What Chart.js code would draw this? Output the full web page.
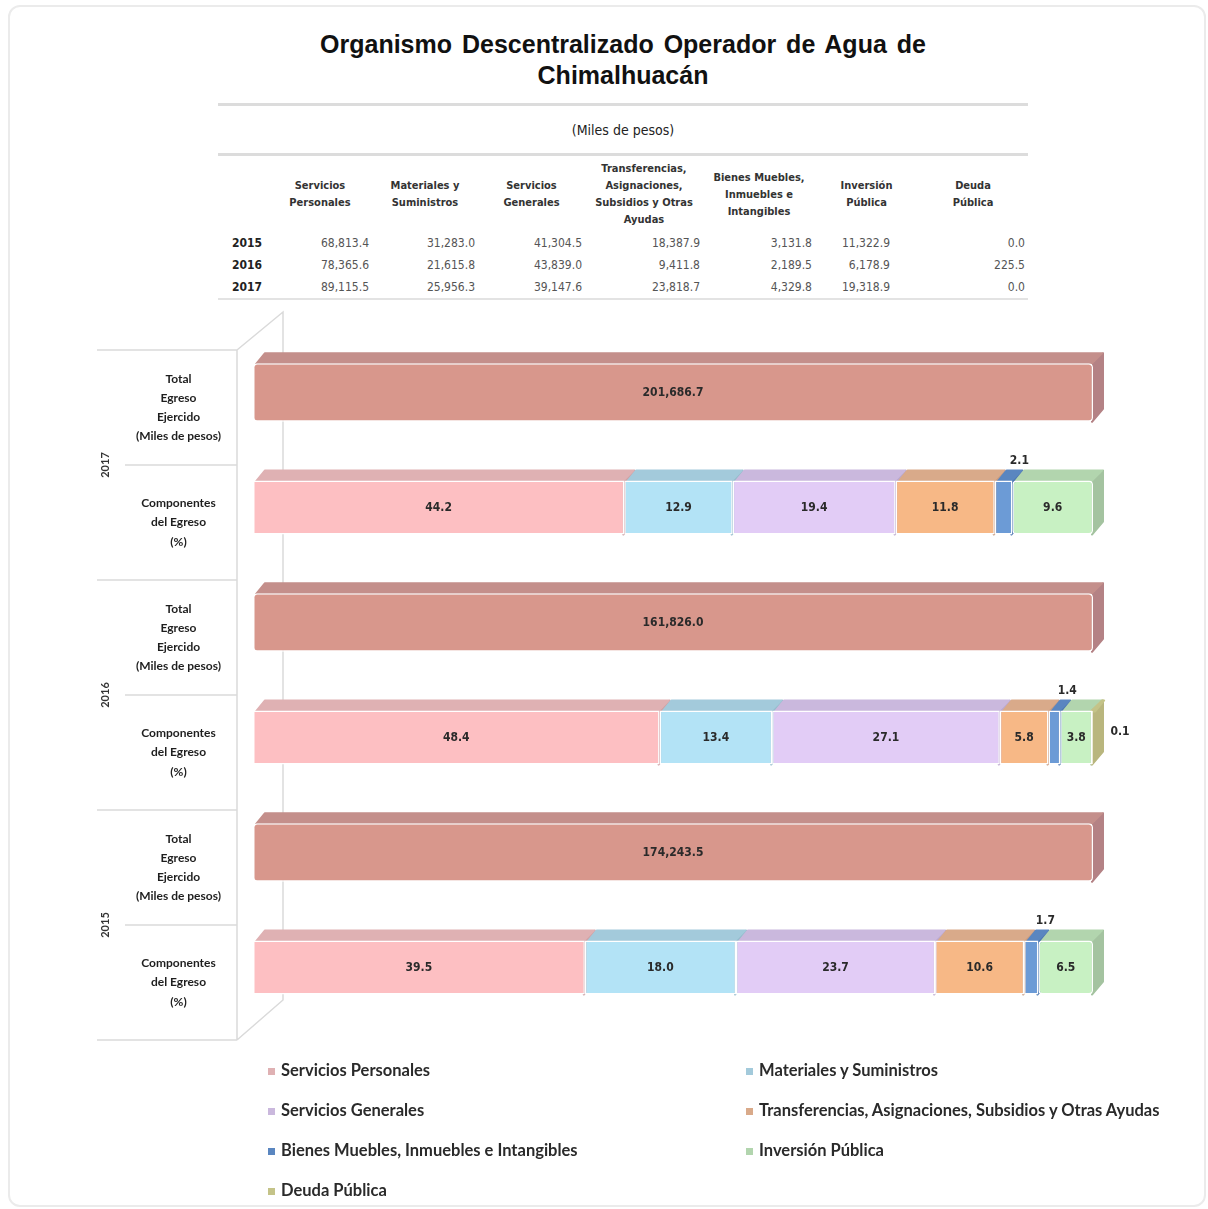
<!DOCTYPE html>
<html>
<head>
<meta charset="utf-8">
<script src="https://cdn.jsdelivr.net/npm/chart.js@4"></script>
<style>
  body { margin: 0; background: #fff; width: 1208px; height: 1209px; position: relative; overflow: hidden; }
  #frame { position: absolute; left: 8px; top: 5px; width: 1194px; height: 1198px; border: 2px solid #ebebeb; border-radius: 12px; }
  #title { position: absolute; left: 218px; top: 29px; width: 810px; text-align: center;
           font: bold 25px "Liberation Sans", Arial, sans-serif; line-height: 31px; color: #111; word-spacing: 3px; }
  #tbl { position: absolute; left: 218px; top: 103px; width: 810px; border-collapse: collapse;
         font-family: "Liberation Sans Narrow", "DejaVu Sans Condensed", sans-serif; }
  #tbl .unit td { height: 47px; border-top: 3px solid #dcdcdc; border-bottom: 3px solid #dcdcdc;
                  text-align: center; font-size: 14px; color: #222; padding: 0; }
  #tbl th { height: 76px; font-size: 11px; font-weight: bold; color: #333; line-height: 17px; padding: 0; text-align: center; }
  #tbl .row td { height: 22px; font-size: 12px; color: #555; text-align: right; padding: 0 3px 0 0; }
  #tbl .row td:first-child { font-weight: bold; color: #222; padding-right: 6px; }
  #tbl .row td:nth-child(7) { padding-right: 28px; }
  #tbl .last td { border-bottom: 2px solid #e3e3e3; }
  #chart { position: absolute; left: 0; top: 300px; }
  #legend { position: absolute; left: 268px; top: 1058px; width: 930px; display: grid;
            grid-template-columns: 478px 452px; row-gap: 16px;
            font: bold 16.5px Lato, "Open Sans", sans-serif; color: #2a2a2a; }
  #legend div { height: 24px; line-height: 24px; white-space: nowrap; }
  #legend span { display: inline-block; width: 7px; height: 7px; margin-right: 6px; vertical-align: 1px; }
</style>
</head>
<body>
<div id="frame"></div>
<div id="title">Organismo Descentralizado Operador de Agua de<br>Chimalhuacán</div>
<table id="tbl">
  <colgroup>
    <col style="width:50px"><col style="width:104px"><col style="width:106px"><col style="width:107px">
    <col style="width:118px"><col style="width:112px"><col style="width:103px"><col style="width:110px">
  </colgroup>
  <tbody id="tbody"></tbody>
</table>
<canvas id="chart" width="1208" height="760"></canvas>
<div id="legend"></div>
<script>
// chart rows, top to bottom
const rowLabels = [
  ["Total", "Egreso", "Ejercido", "(Miles de pesos)"],
  ["Componentes", "del Egreso", "(%)"],
  ["Total", "Egreso", "Ejercido", "(Miles de pesos)"],
  ["Componentes", "del Egreso", "(%)"],
  ["Total", "Egreso", "Ejercido", "(Miles de pesos)"],
  ["Componentes", "del Egreso", "(%)"],
];
const years = ["2017", "2016", "2015"];
const totalEgreso = [201686.7, 161826.0, 174243.5]; // miles de pesos, 2017 / 2016 / 2015

const componentNames = [
  "Servicios Personales",
  "Materiales y Suministros",
  "Servicios Generales",
  "Transferencias, Asignaciones, Subsidios y Otras Ayudas",
  "Bienes Muebles, Inmuebles e Intangibles",
  "Inversión Pública",
  "Deuda Pública",
];
// % of total egreso
const shares2017 = [44.2, 12.9, 19.4, 11.8, 2.1, 9.6, 0.0];
const shares2016 = [48.4, 13.4, 27.1, 5.8, 1.4, 3.8, 0.1];
const shares2015 = [39.5, 18.0, 23.7, 10.6, 1.7, 6.5, 0.0];

// table above the chart
const tableHeaders = [
  ["Servicios", "Personales"],
  ["Materiales y", "Suministros"],
  ["Servicios", "Generales"],
  ["Transferencias,", "Asignaciones,", "Subsidios y Otras", "Ayudas"],
  ["Bienes Muebles,", "Inmuebles e", "Intangibles"],
  ["Inversión", "Pública"],
  ["Deuda", "Pública"],
];
const tableYears = ["2015", "2016", "2017"];
const table2015 = [68813.4, 31283.0, 41304.5, 18387.9, 3131.8, 11322.9, 0.0];
const table2016 = [78365.6, 21615.8, 43839.0, 9411.8, 2189.5, 6178.9, 225.5];
const table2017 = [89115.5, 25956.3, 39147.6, 23818.7, 4329.8, 19318.9, 0.0];

// colours: front face, top face, side face
const totalColors = ["#d8978c", "#c48f8b", "#b48285"];
const frontColors = ["#fdbfc2", "#b3e3f6", "#e2ccf6", "#f7b886", "#6c9bd6", "#c8f1c3", "#d6d89c"];
const topColors   = ["#dfb1b3", "#a3cadb", "#cab8dd", "#d9aa8a", "#5a86c0", "#b2d5ae", "#c4c388"];
const sideColors  = ["#cfa3a6", "#95bccc", "#bba9cf", "#c99c80", "#4f79b2", "#a4c3a0", "#b9b67e"];

const fmt = v => v.toLocaleString("en-US", { minimumFractionDigits: 1, maximumFractionDigits: 1 });

// ---- table
const tb = document.getElementById("tbody");
let html = '<tr class="unit"><td colspan="8">(Miles de pesos)</td></tr>';
html += "<tr><th></th>" + tableHeaders.map(h => "<th>" + h.join("<br>") + "</th>").join("") + "</tr>";
[table2015, table2016, table2017].forEach((vals, r) => {
  html += '<tr class="row' + (r === 2 ? " last" : "") + '"><td>' + tableYears[r] + "</td>" +
    vals.map(v => "<td>" + fmt(v) + "</td>").join("") + "</tr>";
});
tb.innerHTML = html;

// ---- datasets
const yearShares = [shares2017, shares2016, shares2015];
const sum = a => a.reduce((s, v) => s + v, 0);

const datasets = [{
  label: "Total Egreso Ejercido",
  data: rowLabels.map((_, i) => (i % 2 === 0 ? sum(yearShares[i / 2]) : null)),
  backgroundColor: totalColors[0],
  topColor: totalColors[1],
  sideColor: totalColors[2],
  barPercentage: 0.51,
}];
componentNames.forEach((name, k) => {
  datasets.push({
    label: name,
    data: rowLabels.map((_, i) => (i % 2 === 1 ? yearShares[(i - 1) / 2][k] : null)),
    backgroundColor: frontColors[k],
    topColor: topColors[k],
    sideColor: sideColors[k],
    barPercentage: 0.47,
  });
});

// axis box and 3d faces behind the bars
const boxAnd3d = {
  id: "boxAnd3d",
  beforeDatasetsDraw(chart) {
    const c = chart.ctx, ca = chart.chartArea;
    const step = (ca.bottom - ca.top) / rowLabels.length;
    const off = 15;
    const fx = ca.left - 16, bx = ca.left + 30;
    const y0 = ca.top + off, y1 = ca.bottom + off;
    c.save();
    c.strokeStyle = "#dadada";
    c.lineWidth = 1.5;
    c.beginPath();
    for (let k = 0; k <= rowLabels.length; k++) {
      const yy = y0 + k * step;
      c.moveTo(k % 2 === 0 ? 97 : 125, yy);
      c.lineTo(fx, yy);
    }
    c.moveTo(fx, y0); c.lineTo(fx, y1);
    c.moveTo(fx, y0); c.lineTo(bx, y0 - 38);
    c.lineTo(bx, y1 - 40);
    c.lineTo(fx, y1);
    c.stroke();

    // year labels
    c.fillStyle = "#333";
    c.font = "bold 11px Lato, sans-serif";
    c.textAlign = "center";
    c.textBaseline = "middle";
    years.forEach((yr, k) => {
      c.save();
      c.translate(105, y0 + (2 * k + 1) * step);
      c.rotate(-Math.PI / 2);
      c.fillText(yr, 0, 0);
      c.restore();
    });

    // top and side faces
    const dx = 11, dy = 10;
    c.lineJoin = "round";
    chart.data.datasets.forEach((ds, di) => {
      chart.getDatasetMeta(di).data.forEach((el, i) => {
        const v = ds.data[i];
        if (v == null || v === 0) return;
        const p = el.getProps(["x", "y", "base", "height"], true);
        const l = Math.min(p.x, p.base) + 1, r = Math.max(p.x, p.base) - 1;
        const t = p.y - p.height / 2, b = p.y + p.height / 2;
        c.fillStyle = ds.sideColor;
        c.strokeStyle = ds.sideColor;
        c.lineWidth = 2;
        c.beginPath();
        c.moveTo(r, t); c.lineTo(r + dx, t - dy); c.lineTo(r + dx, b - dy - 3); c.lineTo(r, b);
        c.closePath(); c.fill(); c.stroke();
        c.fillStyle = ds.topColor;
        c.strokeStyle = ds.topColor;
        c.beginPath();
        c.moveTo(l + 2, t + 1); c.lineTo(l + dx, t - dy); c.lineTo(r + dx - 1, t - dy); c.lineTo(r - 1, t + 1);
        c.closePath(); c.fill(); c.stroke();
      });
    });
    c.restore();
  },
};

// value labels
const valueLabels = {
  id: "valueLabels",
  afterDatasetsDraw(chart) {
    const c = chart.ctx;
    c.save();
    c.fillStyle = "#2a2a2a";
    c.font = 'bold 12px "Liberation Sans Narrow", "DejaVu Sans Condensed", sans-serif';
    c.textAlign = "center";
    c.textBaseline = "middle";
    chart.data.datasets.forEach((ds, di) => {
      chart.getDatasetMeta(di).data.forEach((el, i) => {
        const v = ds.data[i];
        if (v == null) return;
        const p = el.getProps(["x", "y", "base", "height"], true);
        if (di === 0) {
          c.fillText(fmt(totalEgreso[i / 2]), (p.x + p.base) / 2, p.y);
        } else if (v === 0) {
          return;
        } else if (v >= 3) {
          c.fillText(v.toFixed(1), (p.x + p.base) / 2, p.y);
        } else if (v >= 1) {
          c.fillText(v.toFixed(1), p.x + 7, p.y - p.height / 2 - 20);
        } else {
          c.fillText(v.toFixed(1), p.x + 27, p.y - 6);
        }
      });
    });
    c.restore();
  },
};

new Chart(document.getElementById("chart"), {
  type: "bar",
  data: { labels: rowLabels, datasets: datasets },
  options: {
    indexAxis: "y",
    responsive: false,
    animation: false,
    layout: { padding: { top: 35, bottom: 35, left: 0, right: 115 } },
    datasets: { bar: { categoryPercentage: 1, borderRadius: 4, borderSkipped: false, borderWidth: 1.5, borderColor: "#ffffff" } },
    scales: {
      x: { stacked: true, min: 0, max: 100, display: false },
      y: {
        stacked: true,
        grid: { display: false },
        border: { display: false },
        afterFit: s => { s.width = 253; s.paddingTop = 0; s.paddingBottom = 0; },
        ticks: {
          crossAlign: "center",
          padding: 24,
          labelOffset: 15,
          color: "#1e1e1e",
          font: { family: "Lato", weight: "bold", size: 12, lineHeight: 1.6 },
        },
      },
    },
    plugins: { legend: { display: false }, tooltip: { enabled: false } },
  },
  plugins: [boxAnd3d, valueLabels],
});

// legend, two columns
document.getElementById("legend").innerHTML = componentNames
  .map((n, k) => '<div><span style="background:' + topColors[k] + '"></span>' + n + "</div>")
  .join("");
</script>
</body>
</html>
